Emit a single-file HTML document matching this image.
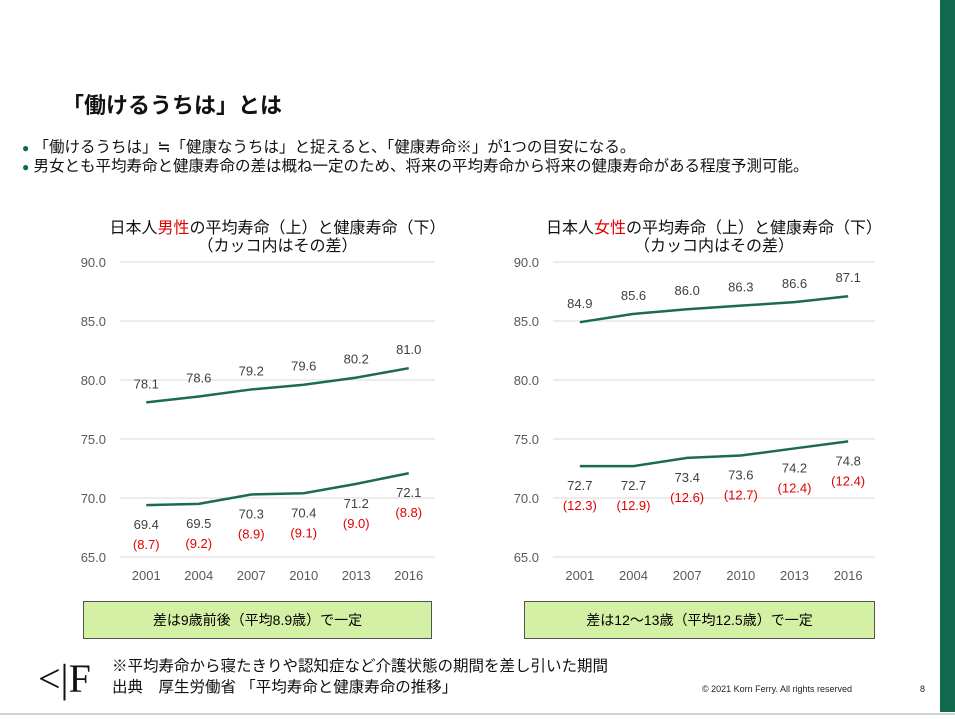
<!DOCTYPE html>
<html><head><meta charset="utf-8"><style>
body{margin:0;width:955px;height:719px;background:#fff;position:relative;overflow:hidden;font-family:"Liberation Sans","Noto Sans CJK JP",sans-serif;}
.abs{position:absolute;white-space:nowrap}
.box{position:absolute;background:#d4f0a4;border:1px solid #555;font-size:14px;text-align:center;line-height:36px;color:#000}
</style></head><body>
<div class="abs" style="left:940px;top:0;width:15px;height:712px;background:#10684f"></div>
<div class="abs" style="left:0;top:713px;width:955px;height:2px;background:#c8d8d0"></div>
<div class="abs" style="left:62px;top:88px;font-size:22px;font-weight:bold;color:#111">「働けるうちは」とは</div>
<div class="abs" style="left:22px;top:135px;font-size:15.5px;color:#111"><span style="color:#10684f;font-size:12px">●</span> 「働けるうちは」≒「健康なうちは」と捉えると、「健康寿命※」が1つの目安になる。</div>
<div class="abs" style="left:22px;top:154px;font-size:15.5px;color:#111"><span style="color:#10684f;font-size:12px">●</span> 男女とも平均寿命と健康寿命の差は概ね一定のため、将来の平均寿命から将来の健康寿命がある程度予測可能。</div>
<svg id="chart" width="955" height="719" style="position:absolute;left:0;top:0" font-family="Liberation Sans, Noto Sans CJK JP, sans-serif"></svg>
<div class="box" style="left:83px;top:601px;width:347px;height:36px">差は9歳前後（平均8.9歳）で一定</div>
<div class="box" style="left:524px;top:601px;width:349px;height:36px">差は12～13歳（平均12.5歳）で一定</div>
<div class="abs" style="left:38px;top:654px;font-size:40px;color:#111;font-family:'Liberation Serif',serif;line-height:50px">&lt;|F</div>
<div class="abs" style="left:112px;top:654px;font-size:15.5px;color:#111">※平均寿命から寝たきりや認知症など介護状態の期間を差し引いた期間</div>
<div class="abs" style="left:112px;top:675px;font-size:15.5px;color:#111">出典　厚生労働省 「平均寿命と健康寿命の推移」</div>
<div class="abs" style="left:702px;top:684px;font-size:9px;color:#222">© 2021 Korn Ferry. All rights reserved</div>
<div class="abs" style="left:920px;top:684px;font-size:9px;color:#222">8</div>
<script>
const years=["2001","2004","2007","2010","2013","2016"];
const maleLife=[78.1,78.6,79.2,79.6,80.2,81.0];
const maleHealth=[69.4,69.5,70.3,70.4,71.2,72.1];
const maleGap=["(8.7)","(9.2)","(8.9)","(9.1)","(9.0)","(8.8)"];
const femaleLife=[84.9,85.6,86.0,86.3,86.6,87.1];
const femaleHealth=[72.7,72.7,73.4,73.6,74.2,74.8];
const femaleGap=["(12.3)","(12.9)","(12.6)","(12.7)","(12.4)","(12.4)"];
const yTicks=[65,70,75,80,85,90];
const svg=document.getElementById('chart');
const NS='http://www.w3.org/2000/svg';
function mk(tag,attrs,txt){const e=document.createElementNS(NS,tag);for(const k in attrs)e.setAttribute(k,attrs[k]);if(txt!=null)e.textContent=txt;svg.appendChild(e);return e;}
function draw(x0,x1,life,health,gap,prefix,titleHTML){
  const y=v=>557-(v-65)*11.8;
  const bw=(x1-x0)/years.length;
  const x=i=>x0+bw*(i+0.5);
  yTicks.forEach(t=>{
    const g=mk('line',{x1:x0,x2:x1,y1:y(t),y2:y(t),stroke:'#d9d9d9','stroke-width':1});
    
    
    const l=mk('text',{x:x0-14,y:y(t)+5,'text-anchor':'end','font-size':13,fill:'#595959'},t.toFixed(1));
    
    
  });
  years.forEach((yr,i)=>{
    const t=mk('text',{x:x(i),y:580,'text-anchor':'middle','font-size':13,fill:'#595959'},yr);
    
    
  });
  [life,health].forEach((s,k)=>{
    const p=mk('polyline',{points:s.map((v,i)=>x(i)+','+y(v)).join(' '),fill:'none',stroke:'#1d6b4f','stroke-width':2.5});
    
    
  });
  life.forEach((v,i)=>{
    const t=mk('text',{x:x(i),y:y(v)-14,'text-anchor':'middle','font-size':13,fill:'#404040'},v.toFixed(1));
    
    
  });
  health.forEach((v,i)=>{
    const t=mk('text',{x:x(i),y:y(v)+24,'text-anchor':'middle','font-size':13,fill:'#404040'},v.toFixed(1));
    
    
    const g=mk('text',{x:x(i),y:y(v)+44,'text-anchor':'middle','font-size':13,fill:'#e00000'},gap[i]);
    
    
  });
  const tt=mk('text',{x:(x0+x1)/2,y:233,'text-anchor':'middle','font-size':16,fill:'#111'});
  tt.innerHTML=titleHTML;
  
  
  const st=mk('text',{x:(x0+x1)/2,y:251,'text-anchor':'middle','font-size':16,fill:'#111'},'（カッコ内はその差）');
  
  
}
draw(120,435,maleLife,maleHealth,maleGap,'male','日本人<tspan fill="#e00000">男性</tspan>の平均寿命（上）と健康寿命（下）');
draw(553,875,femaleLife,femaleHealth,femaleGap,'female','日本人<tspan fill="#e00000">女性</tspan>の平均寿命（上）と健康寿命（下）');
</script>
</body></html>
